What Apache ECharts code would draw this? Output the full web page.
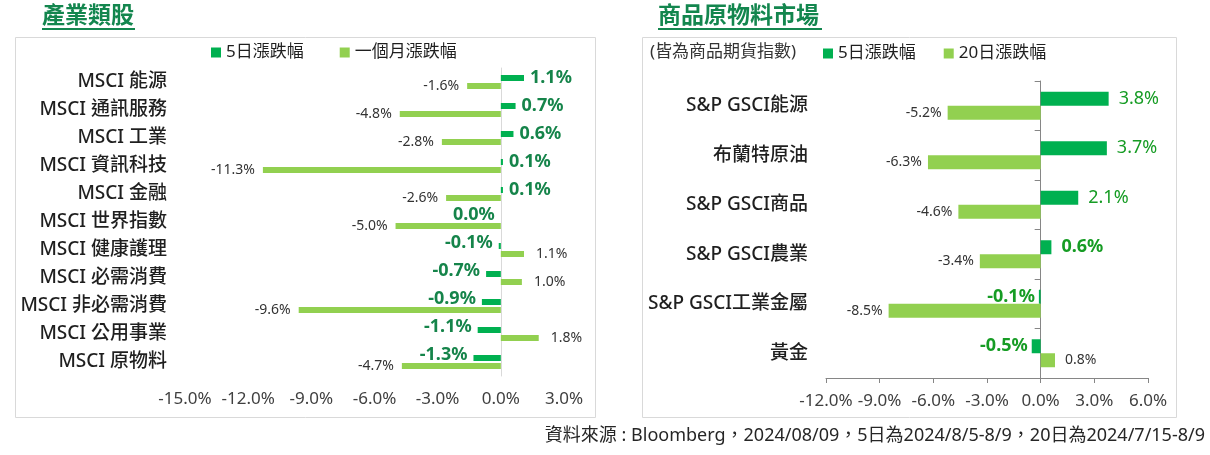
<!DOCTYPE html>
<html>
<head>
<meta charset="utf-8">
<script src="https://cdn.jsdelivr.net/npm/echarts@6/dist/echarts.min.js"></script>
<style>
  html, body { margin: 0; padding: 0; background: #fff; }
  #main { width: 1210px; height: 455px; }
</style>
</head>
<body>
<div id="main"></div>
<script>
// 產業類股
const sectorNames = ['MSCI 能源', 'MSCI 通訊服務', 'MSCI 工業', 'MSCI 資訊科技', 'MSCI 金融', 'MSCI 世界指數',
  'MSCI 健康護理', 'MSCI 必需消費', 'MSCI 非必需消費', 'MSCI 公用事業', 'MSCI 原物料']
const sector5d = [1.1, 0.7, 0.6, 0.1, 0.1, 0.0, -0.1, -0.7, -0.9, -1.1, -1.3]
const sector1m = [-1.6, -4.8, -2.8, -11.3, -2.6, -5.0, 1.1, 1.0, -9.6, 1.8, -4.7]
const sectorAxis = { min: -15, max: 3, interval: 3 }

// 商品原物料市場
const commodityNames = ['S&P GSCI能源', '布蘭特原油', 'S&P GSCI商品', 'S&P GSCI農業', 'S&P GSCI工業金屬', '黃金']
const commodity5d = [3.8, 3.7, 2.1, 0.6, -0.1, -0.5]
const commodity20d = [-5.2, -6.3, -4.6, -3.4, -8.5, 0.8]
const commodityAxis = { min: -12, max: 6, interval: 3 }

const FONT = '"Noto Sans", "Noto Sans CJK TC", sans-serif'
const DARK = '#00b050'
const LIGHT = '#92d050'
const fmt = v => v.toFixed(1) + '%'

// 正值標籤放右邊，負值（含 0）放左邊
function withLabels(values, posDist, negDist, extra) {
	return values.map(v => ({
		value: v,
		label: Object.assign({
			position: v > 0 ? 'right' : 'left',
			distance: v > 0 ? posDist : negDist,
		}, extra ? extra(v) : {}),
	}))
}

const chart = echarts.init(document.getElementById('main'))

const catLabel = { fontFamily: FONT, fontSize: 19, fontWeight: 500, color: '#1f1f1f', margin: 18 }
const valLabel = { fontFamily: FONT, fontSize: 17, color: '#404040', formatter: v => fmt(v) }
const legendText = { fontFamily: FONT, fontSize: 17, color: '#1f1f1f' }

const option = {
	animation: false,
	textStyle: { fontFamily: FONT },
	grid: [
		{ left: 185, right: 646, top: 68, bottom: 79 },
		{ left: 826, right: 62, top: 81, bottom: 77 },
	],
	legend: [
		{
			data: ['5日漲跌幅', '一個月漲跌幅'],
			left: 211, top: 44, padding: 0,
			itemWidth: 10, itemHeight: 10, itemGap: 36, icon: 'rect',
			textStyle: legendText,
			selectedMode: false,
		},
		{
			data: ['5日漲跌幅', '20日漲跌幅'],
			left: 823, top: 45, padding: 0,
			itemWidth: 10, itemHeight: 10, itemGap: 28, icon: 'rect',
			textStyle: legendText,
			selectedMode: false,
		},
	],
	xAxis: [
		{
			type: 'value', gridIndex: 0,
			min: sectorAxis.min, max: sectorAxis.max, interval: sectorAxis.interval,
			splitLine: { show: false },
			axisLine: { show: false },
			axisTick: { show: false },
			axisLabel: Object.assign({ margin: 15 }, valLabel),
		},
		{
			type: 'value', gridIndex: 1,
			min: commodityAxis.min, max: commodityAxis.max, interval: commodityAxis.interval,
			splitLine: { show: false },
			axisLine: { show: true, onZero: false, lineStyle: { color: '#868686', width: 1 } },
			axisTick: { show: true, length: 5, lineStyle: { color: '#868686' } },
			axisLabel: Object.assign({ margin: 15 }, valLabel),
		},
	],
	yAxis: [
		// 左圖：類別文字
		{
			type: 'category', gridIndex: 0, data: sectorNames, inverse: true, position: 'left',
			axisLine: { show: false, onZero: false },
			axisTick: { show: false },
			axisLabel: catLabel,
		},
		// 左圖：0 軸線
		{
			type: 'category', gridIndex: 0, data: sectorNames, inverse: true, position: 'left',
			axisLine: { show: true, onZero: true, lineStyle: { color: '#d9d9d9' } },
			axisTick: { show: false },
			axisLabel: { show: false },
		},
		// 右圖：類別文字
		{
			type: 'category', gridIndex: 1, data: commodityNames, inverse: true, position: 'left',
			axisLine: { show: false, onZero: false },
			axisTick: { show: false },
			axisLabel: catLabel,
		},
		// 右圖：0 軸線與刻度
		{
			type: 'category', gridIndex: 1, data: commodityNames, inverse: true, position: 'left',
			axisLine: { show: true, onZero: true, lineStyle: { color: '#868686' } },
			axisTick: { show: true, length: 6, lineStyle: { color: '#868686' } },
			axisLabel: { show: false },
		},
	],
	series: [
		{
			name: '5日漲跌幅', type: 'bar', xAxisIndex: 0, yAxisIndex: 0,
			barWidth: 6, barGap: '33%',
			itemStyle: { color: DARK },
			label: {
				show: true, fontFamily: FONT, fontSize: 18, fontWeight: 'bold', color: '#15844a',
				formatter: p => fmt(p.value),
			},
			data: withLabels(sector5d, 6, 6, v => (v > 0 ? {} : { offset: [0, -3] })),
		},
		{
			name: '一個月漲跌幅', type: 'bar', xAxisIndex: 0, yAxisIndex: 0,
			barWidth: 6, barGap: '33%',
			itemStyle: { color: LIGHT },
			label: {
				show: true, fontFamily: FONT, fontSize: 14, color: '#333',
				formatter: p => fmt(p.value),
			},
			data: withLabels(sector1m, 12, 8),
		},
		{
			name: '5日漲跌幅', type: 'bar', xAxisIndex: 1, yAxisIndex: 2,
			barWidth: 14, barGap: '0%',
			itemStyle: { color: DARK },
			label: {
				show: true, fontFamily: FONT, fontSize: 18, color: '#169c24',
				formatter: p => fmt(p.value),
			},
			data: withLabels(commodity5d, 10, 4, v => ({ fontWeight: v > 1 ? 'normal' : 'bold' })),
		},
		{
			name: '20日漲跌幅', type: 'bar', xAxisIndex: 1, yAxisIndex: 2,
			barWidth: 14, barGap: '0%',
			itemStyle: { color: LIGHT },
			label: {
				show: true, fontFamily: FONT, fontSize: 14, color: '#333',
				formatter: p => fmt(p.value),
			},
			data: withLabels(commodity20d, 10, 6),
		},
	],
	graphic: [
		{ type: 'rect', shape: { x: 15.5, y: 37.5, width: 580, height: 380 }, style: { fill: 'none', stroke: '#d9d9d9', lineWidth: 1 }, silent: true, z: -1 },
		{ type: 'rect', shape: { x: 642.5, y: 37.5, width: 534, height: 380 }, style: { fill: 'none', stroke: '#d9d9d9', lineWidth: 1 }, silent: true, z: -1 },
		{ type: 'text', left: 42, top: 5, style: { text: '產業類股', fontFamily: FONT, fontSize: 23, fontWeight: 'bold', fill: '#13864e' } },
		{ type: 'rect', shape: { x: 42, y: 28, width: 93, height: 2 }, style: { fill: '#13864e' } },
		{ type: 'text', left: 658, top: 5, style: { text: '商品原物料市場', fontFamily: FONT, fontSize: 23, fontWeight: 'bold', fill: '#13864e' } },
		{ type: 'rect', shape: { x: 658, y: 28, width: 164, height: 2 }, style: { fill: '#13864e' } },
		{ type: 'text', left: 650, top: 44, style: { text: '(皆為商品期貨指數)', fontFamily: FONT, fontSize: 17, fill: '#333' } },
		{
			type: 'text', right: 5, top: 427,
			style: { text: '資料來源 : Bloomberg，2024/08/09，5日為2024/8/5-8/9，20日為2024/7/15-8/9', fontFamily: FONT, fontSize: 18, fill: '#262626' },
		},
	],
}

chart.setOption(option)
</script>
</body>
</html>
